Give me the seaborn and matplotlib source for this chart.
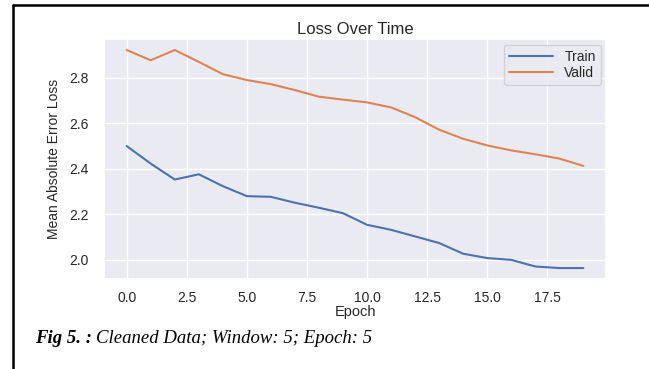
import pandas as pd
import seaborn as sns
from matplotlib import pyplot as plt
from matplotlib.lines import Line2D

epochs = list(range(20))
train = [2.500, 2.423, 2.353, 2.376, 2.324, 2.280, 2.277, 2.251, 2.229, 2.205,
         2.154, 2.132, 2.103, 2.074, 2.027, 2.008, 2.000, 1.971, 1.964, 1.964]
valid = [2.922, 2.877, 2.922, 2.870, 2.816, 2.790, 2.772, 2.746, 2.717, 2.704,
         2.692, 2.670, 2.627, 2.572, 2.532, 2.503, 2.481, 2.464, 2.445, 2.413]

df = pd.DataFrame({"Epoch": epochs, "Train": train, "Valid": valid})
df = df.melt(id_vars="Epoch", var_name="set", value_name="loss")

sns.set_theme(style="darkgrid")
plt.rcParams["font.family"] = ["Liberation Sans", "DejaVu Sans"]

fig = plt.figure(figsize=(6.49, 3.69), dpi=100)
fig.patch.set_facecolor("white")
ax = fig.add_axes([0.160, 0.244, 0.774, 0.650])

sns.lineplot(data=df, x="Epoch", y="loss", hue="set", linewidth=1.5, ax=ax)

ax.set_title("Loss Over Time", fontsize=12, color="#262626", pad=4)
ax.set_xlabel("Epoch", fontsize=10.5, color="#262626", labelpad=0)
ax.set_ylabel("Mean Absolute Error Loss", fontsize=10, color="#262626", labelpad=6)
ax.set_xticks([0, 2.5, 5, 7.5, 10, 12.5, 15, 17.5])
ax.set_xticklabels(["0.0", "2.5", "5.0", "7.5", "10.0", "12.5", "15.0", "17.5"])
ax.set_yticks([2.0, 2.2, 2.4, 2.6, 2.8])
ax.set_yticklabels(["2.0", "2.2", "2.4", "2.6", "2.8"])
ax.tick_params(axis="x", labelsize=10, colors="#262626", pad=3)
ax.tick_params(axis="y", labelsize=10, colors="#262626", pad=5)
ax.legend(title=None, loc="upper right", fontsize=10, handlelength=3.2,
          borderpad=0.35, labelspacing=0.2, borderaxespad=0.4)

# document border
fig.add_artist(Line2D([12.5 / 649, 1.0], [1 - 4.5 / 369, 1 - 4.5 / 369],
                      transform=fig.transFigure, color="black", linewidth=1.8))
fig.add_artist(Line2D([12.5 / 649, 12.5 / 649], [0.0, 1 - 4.5 / 369],
                      transform=fig.transFigure, color="black", linewidth=1.8))

# caption
fig.text(35 / 649, 1 - 343 / 369, "Fig 5. :", family="Liberation Serif",
         style="italic", weight="bold", fontsize=13.5, color="black")
fig.text(96 / 649, 1 - 343 / 369, "Cleaned Data; Window: 5; Epoch: 5",
         family="Liberation Serif", style="italic", fontsize=13.5, color="black")

fig.savefig("out.png", dpi=100)
